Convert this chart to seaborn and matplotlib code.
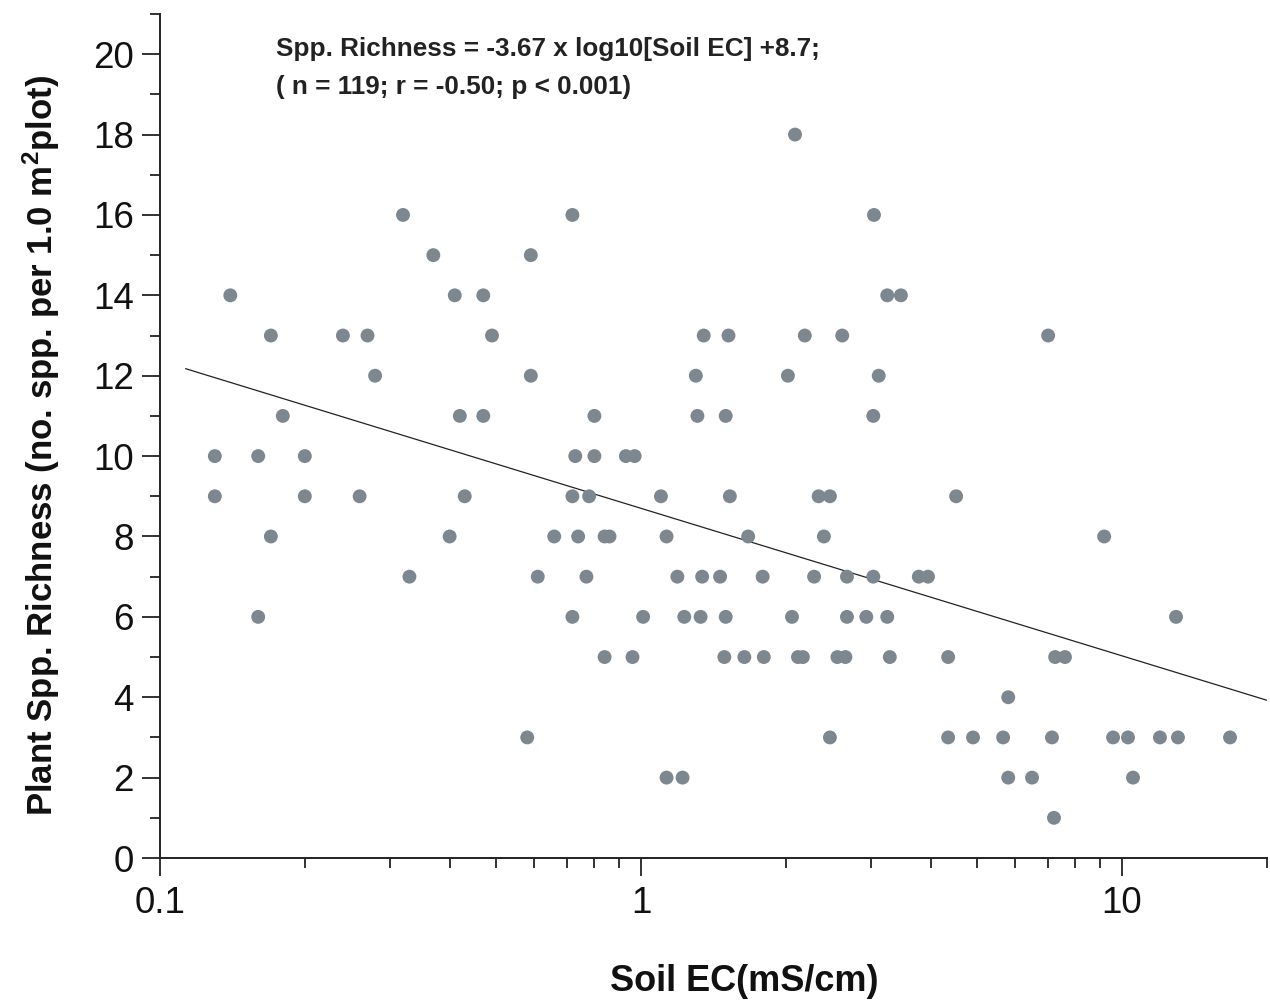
import numpy as np
import pandas as pd
import matplotlib
matplotlib.use("Agg")
import matplotlib.pyplot as plt
from matplotlib.ticker import MultipleLocator, LogLocator, FixedLocator, FixedFormatter, NullFormatter
import seaborn as sns

# ---- data, grouped by richness value ----
ec_18 = [2.09]
ec_16 = [0.32, 0.72, 3.05]
ec_15 = [0.37, 0.59]
ec_14 = [0.14, 0.41, 0.47, 3.25, 3.47]
ec_13 = [0.17, 0.24, 0.27, 0.49, 1.35, 1.52, 2.19, 2.62, 7.02]
ec_12 = [0.28, 0.59, 1.30, 2.02, 3.12]
ec_11 = [0.18, 0.42, 0.47, 0.80, 1.31, 1.50, 3.04]
ec_10 = [0.13, 0.16, 0.20, 0.73, 0.80, 0.93, 0.97]
ec_9 = [0.13, 0.20, 0.26, 0.43, 0.72, 0.78, 1.10, 1.53, 2.34, 2.47, 4.52]
ec_8 = [0.17, 0.40, 0.66, 0.74, 0.84, 0.86, 1.13, 1.67, 2.40, 9.18]
ec_7 = [0.33, 0.61, 0.77, 1.19, 1.34, 1.46, 1.79, 2.29, 2.68, 3.04, 3.78, 3.95]
ec_6 = [0.16, 0.72, 1.01, 1.23, 1.33, 1.50, 2.06, 2.68, 2.94, 3.25, 12.95]
ec_5 = [0.84, 0.96, 1.49, 1.64, 1.80, 2.12, 2.17, 2.56, 2.66, 3.29, 4.35, 7.26, 7.61]
ec_4 = [5.80]
ec_3 = [0.58, 2.47, 4.35, 4.90, 5.66, 7.15, 9.58, 10.29, 11.99, 13.07, 16.77]
ec_2 = [1.13, 1.22, 5.80, 6.50, 10.54]
ec_1 = [7.22]

groups = {18: ec_18, 16: ec_16, 15: ec_15, 14: ec_14, 13: ec_13, 12: ec_12,
          11: ec_11, 10: ec_10, 9: ec_9, 8: ec_8, 7: ec_7, 6: ec_6, 5: ec_5,
          4: ec_4, 3: ec_3, 2: ec_2, 1: ec_1}

# regression: Spp. Richness = slope * log10(EC) + intercept
slope = -3.67
intercept = 8.7
fit_range = [0.113, 20.0]

eq_line1 = "Spp. Richness = -3.67 x log10[Soil EC] +8.7;"
eq_line2 = "( n = 119; r = -0.50; p < 0.001)"
x_label = "Soil EC(mS/cm)"
y_label = "Plant Spp. Richness (no. spp. per 1.0 m$\\mathbf{^2}$plot)"

x_ticks = [0.1, 1, 10]
x_ticklabels = ["0.1", "1", "10"]

rows = []
for rich, ecs in groups.items():
    for e in ecs:
        rows.append({"ec": e, "richness": rich})
df = pd.DataFrame(rows)

fit_x = np.logspace(np.log10(fit_range[0]), np.log10(fit_range[1]), 50)
fit_df = pd.DataFrame({"ec": fit_x, "richness": slope * np.log10(fit_x) + intercept})

# ---- style ----
sns.set_style("ticks")
plt.rcParams["font.family"] = ["Liberation Sans", "DejaVu Sans"]
plt.rcParams["mathtext.fontset"] = "custom"
plt.rcParams["mathtext.rm"] = "Liberation Sans"
plt.rcParams["mathtext.bf"] = "Liberation Sans:bold"

fig = plt.figure(figsize=(12.7, 10), dpi=100)
ax = fig.add_axes([0.126, 0.142, 0.8715, 0.844])

sns.scatterplot(data=df, x="ec", y="richness", ax=ax, color="#7d8790",
                s=100, edgecolor="none", linewidth=0, zorder=3)
sns.lineplot(data=fit_df, x="ec", y="richness", ax=ax, color="#222222",
             linewidth=0.9, zorder=2)

ax.set_xscale("log")
ax.set_xlim(0.1, 20)
ax.set_ylim(0, 21)

ax.xaxis.set_major_locator(FixedLocator(x_ticks))
ax.xaxis.set_major_formatter(FixedFormatter(x_ticklabels))
ax.xaxis.set_minor_locator(LogLocator(base=10, subs=np.arange(2, 10), numticks=20))
ax.xaxis.set_minor_formatter(NullFormatter())
ax.yaxis.set_major_locator(MultipleLocator(2))
ax.yaxis.set_minor_locator(MultipleLocator(1))

for side in ["top", "right"]:
    ax.spines[side].set_visible(False)
for side in ["left", "bottom"]:
    ax.spines[side].set_color("#222222")
    ax.spines[side].set_linewidth(1.4)

ax.tick_params(axis="both", which="major", direction="out", length=13, width=1.3,
               color="#222222", labelsize=26.5, labelcolor="#111111")
ax.tick_params(axis="both", which="minor", direction="out", length=7, width=1.3,
               color="#222222")
ax.tick_params(axis="x", which="major", pad=7)
ax.tick_params(axis="y", which="major", pad=6)

ax.set_xlabel(x_label, fontsize=26, fontweight="bold", labelpad=31, color="#111111")
ax.xaxis.label.set_x(0.528)
ax.set_ylabel(y_label, fontsize=25, fontweight="bold", labelpad=22, color="#111111")
ax.yaxis.label.set_y(0.489)

ax.text(0.105, 0.958, eq_line1, transform=ax.transAxes, fontsize=18.8,
        fontweight="bold", color="#222222", va="center", ha="left")
ax.text(0.105, 0.913, eq_line2, transform=ax.transAxes, fontsize=18.8,
        fontweight="bold", color="#222222", va="center", ha="left")

fig.savefig("out.png", dpi=100)
